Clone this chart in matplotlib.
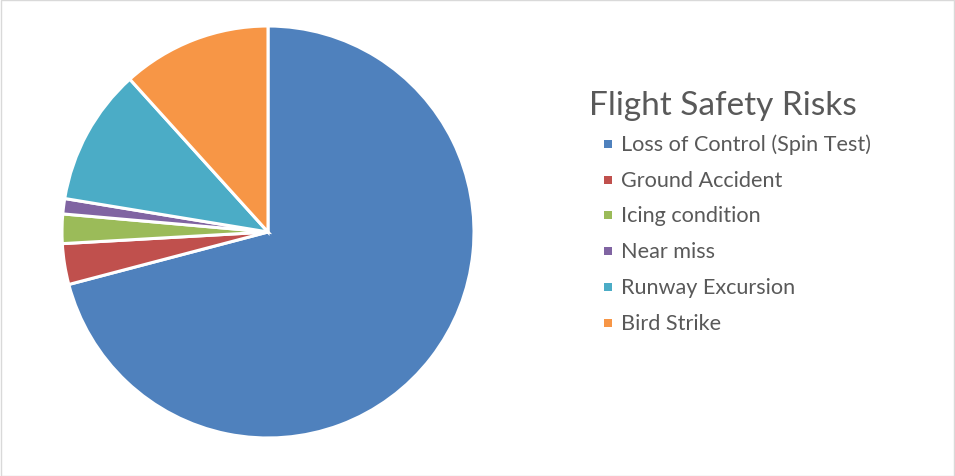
import matplotlib
matplotlib.use("Agg")
import matplotlib.pyplot as plt
from matplotlib.patches import Rectangle

# data (percent of incidents)
labels = ['Loss of Control (Spin Test)', 'Ground Accident', 'Icing condition',
          'Near miss', 'Runway Excursion', 'Bird Strike']
values = [70.9, 3.2, 2.3, 1.2, 10.7, 11.7]
colors = ['#4F81BD', '#C0504D', '#9BBB59', '#8064A2', '#4BACC6', '#F79646']
title = 'Flight Safety Risks'

W, H = 955, 477
fig = plt.figure(figsize=(W / 100, H / 100), dpi=100)
plt.rcParams['font.family'] = ['Lato', 'DejaVu Sans']

# light frame around the chart area
fig.patches.append(Rectangle((0.5 / W, 0.5 / H), 1 - 1.5 / W, 1 - 1.5 / H,
                             transform=fig.transFigure, fill=False,
                             edgecolor='#D9D9D9', linewidth=1))

# pie: centre ~ (268, 233) px, radius ~205 px
cx, cy, r = 268, 233, 206
ax = fig.add_axes([(cx - r) / W, (H - cy - r) / H, 2 * r / W, 2 * r / H])
ax.pie(values, colors=colors, startangle=90, counterclock=False,
       wedgeprops=dict(edgecolor='white', linewidth=2.2), radius=1.0)
ax.set_xlim(-1, 1)
ax.set_ylim(-1, 1)
ax.set_aspect('equal')
ax.axis('off')

# legend, drawn by hand to follow the original layout
txt = '#595959'
fig.text(589 / W, 1 - 106 / H, title, fontsize=24, color=txt, va='center', ha='left')
row0, step = 145, 35.7
for i, (lab, col) in enumerate(zip(labels, colors)):
    y = row0 + i * step
    fig.patches.append(Rectangle((604 / W, 1 - (y + 4) / H), 8 / W, 8 / H,
                                 transform=fig.transFigure, facecolor=col,
                                 edgecolor='none'))
    fig.text(621 / W, 1 - y / H, lab, fontsize=15.6, color=txt, va='center', ha='left')

fig.savefig('out.png', dpi=100)
